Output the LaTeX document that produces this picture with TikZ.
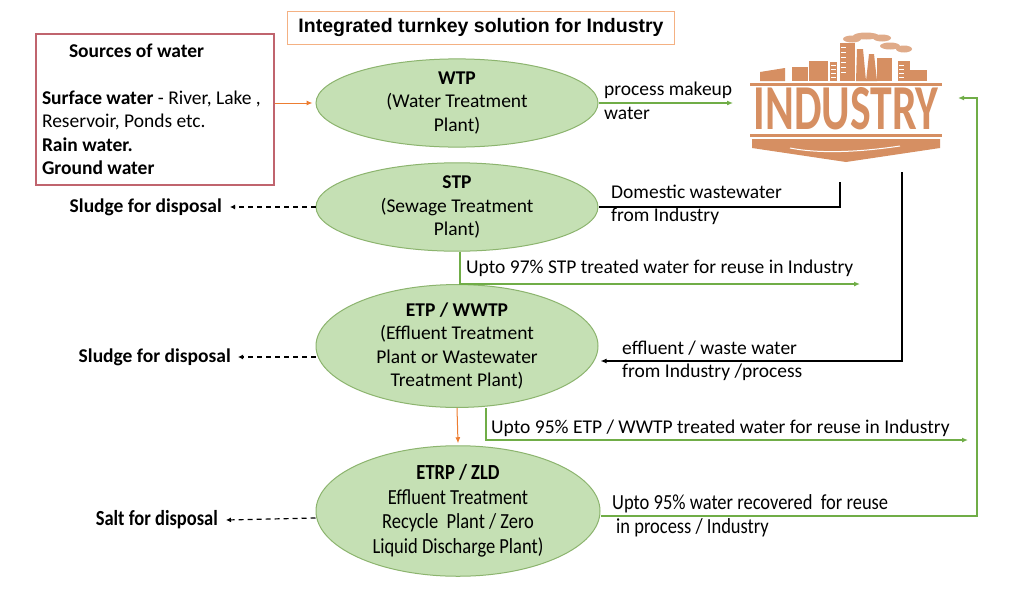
\documentclass[tikz,border=0pt]{standalone}
\usepackage{fontspec}
\usepackage{graphicx}
\setmainfont{Carlito}
\newfontfamily\titlefont{Liberation Sans}
\newfontfamily\narrowfont[FakeStretch=0.86]{Carlito}
\usetikzlibrary{shapes.geometric, arrows.meta}

\definecolor{logoc}{RGB}{214,143,98}
\definecolor{titleline}{RGB}{244,177,131}
\definecolor{srcline}{RGB}{192,100,110}
\definecolor{plantfill}{RGB}{197,224,180}
\definecolor{plantline}{RGB}{140,180,110}
\definecolor{reuse}{RGB}{112,173,71}
\definecolor{feed}{RGB}{237,125,49}

\begin{document}
\begin{tikzpicture}[x=1pt,y=-1pt,
		font=\fontsize{19.5}{23.5}\selectfont,
		plant/.style = {ellipse,draw=plantline,line width=1pt,fill=plantfill,inner sep=0pt,align=center,minimum width=282pt},
		box/.style = {draw,rectangle,line width=1.2pt,inner sep=7pt},
		note/.style = {anchor=west,align=flush left,inner sep=0pt},
		dump/.style = {font=\fontsize{19.5}{23.5}\selectfont\bfseries,inner sep=0pt},
		feedline/.style = {draw=feed,line width=1pt,-{Latex[length=6pt,width=5pt]}},
		reuseline/.style = {draw=reuse,line width=1.2pt,-{Latex[length=6pt,width=5pt]}},
		wasteline/.style = {draw=black,line width=1.3pt},
		dumpline/.style = {draw=black,line width=1.2pt,dash pattern=on 5pt off 4pt,-{Latex[length=5pt,width=5pt]}}]
		\useasboundingbox (0,0) rectangle (1024,589);
		\fill[white] (0,0) rectangle (1024,589);
		% title and sources
		\node [box, draw=titleline, minimum width=387pt, minimum height=32pt, font=\titlefont\fontsize{19.5}{22}\selectfont\bfseries] (title) at (481,28) {Integrated turnkey solution for Industry};
		\node [box, draw=srcline, minimum width=238pt, minimum height=151pt, inner xsep=6pt, inner ysep=3pt, text width=226pt, align=flush left] (src) at (155,109.5)
			{\hspace*{27pt}\textbf{Sources of water}\\[23.5pt]\mbox{\textbf{Surface water} - River, Lake ,}\\Reservoir, Ponds etc.\\\textbf{Rain water.}\\\textbf{Ground water}};
		% plants
		\node [plant, minimum height=64pt] (wtp) at (457,103) {\textbf{WTP}\\(Water Treatment\\Plant)};
		\node [plant, minimum height=66pt] (stp) at (457,207) {\textbf{STP}\\(Sewage Treatment\\Plant)};
		\node [plant, minimum height=102pt] (etp) at (457,346) {\textbf{ETP / WWTP}\\(Effluent Treatment\\Plant or Wastewater\\Treatment Plant)};
		\node [plant, minimum width=284pt, minimum height=118pt, font=\narrowfont\fontsize{21.5}{24.5}\selectfont] (etrp) at (458,511) {\textbf{ETRP / ZLD}\\Effluent Treatment\\Recycle\ \ Plant / Zero\\Liquid Discharge Plant)};
		% disposal
		\node [dump, anchor=east] (sl1) at (222,207) {Sludge for disposal};
		\node [dump, anchor=east] (sl2) at (231,357) {Sludge for disposal};
		\node [dump, anchor=east, font=\narrowfont\fontsize{21.5}{24}\selectfont\bfseries] (salt) at (218,520) {Salt for disposal};
		% industry logo
		\node [minimum width=192pt, minimum height=129pt, inner sep=0pt] (ind) at (846,97.5) {};
		\node [inner sep=0pt, text=logoc, font=\fontsize{40}{40}\selectfont\bfseries] (indtxt) at (846,109) {\resizebox{185pt}{42pt}{INDUSTRY}};
		\fill[logoc] (750,83) rectangle (942,85.5);
		\fill[logoc] (750,134) rectangle (942,136.5);
		\fill[logoc] (752,139) -- (940,139) -- (940,148) -- (846,162) -- (752,148) -- cycle;
		\draw[white, line width=1pt] (790,148) .. controls (820,154) and (860,152) .. (900,146);
		\fill[logoc] (760,81) -- (760,72) -- (785,68) -- (785,81) -- cycle;
		\fill[logoc] (792,81) rectangle (808,67);
		\fill[logoc] (809,81) rectangle (828,61);
		\fill[logoc] (830,81) rectangle (837,62);
		\fill[logoc] (840,81) rectangle (855,43);
		\fill[logoc] (856,81) -- (857,49) -- (863,49) -- (866,81) -- cycle;
		\fill[logoc] (866,81) -- (869,54) -- (874,54) -- (877,81) -- cycle;
		\fill[logoc] (877,81) rectangle (892,58);
		\fill[logoc] (898,81) rectangle (910,61);
		\fill[logoc] (910,81) rectangle (927,70);
		\foreach \y in {47,52,57,62,67,72} {
			\draw[white, line width=1pt] (841,\y) -- (846,\y);
		}
		\foreach \y in {65,69,73,77} {
			\draw[white, line width=0.8pt] (831,\y) -- (836,\y);
			\draw[white, line width=0.8pt] (899,\y) -- (904,\y);
		}
		% smoke
		\foreach \cx/\cy/\rx in {852/39/9, 866/36/13, 882/38/9, 890/46/10, 904/49/8} {
			\fill[logoc!75] (\cx,\cy) ellipse [x radius=\rx, y radius=3.5];
		}
		% connector points
		\coordinate (pin) at (733,103);
		\coordinate (dom) at (840,182);
		\coordinate (eff) at (902,172);
		\coordinate (r97) at (860,284);
		\coordinate (r95) at (968,440);
		\coordinate (loop) at (977,516);
		\coordinate (indr) at (958,98);
		% connectors
		\draw[feedline] (src.east |- wtp.west) -- ([xshift=-3pt]wtp.west);
		\draw[reuseline] (wtp.east) -- (pin);
		\draw[wasteline] (dom) |- (stp.east);
		\draw[reuseline] ([xshift=3pt]stp.south) |- (r97);
		\draw[wasteline, -{Latex[length=6pt,width=5pt]}] (eff) |- ([yshift=-15pt, xshift=2pt]etp.east);
		\draw[feedline] (etp.south) -- ([yshift=2pt]etrp.north);
		\draw[reuseline] ([xshift=29pt]etp.south) |- (r95);
		\draw[reuseline] ([yshift=-5pt]etrp.east) -- (loop) |- (indr);
		\draw[dumpline] (stp.west) -- ([xshift=8pt]sl1.east);
		\draw[dumpline] (etp.west |- sl2) -- ([xshift=7pt]sl2.east);
		\draw[dumpline] ([yshift=-7pt]etrp.west) -- ([xshift=8pt]salt.east);
		% connector labels
		\node [note] (lmake) at (604,101) {process makeup\\water};
		\node [note] (ldom) at (611,205) {Domestic wastewater\\from Industry};
		\node [note] (l97) at (466,268) {Upto 97\% STP treated water for reuse in Industry};
		\node [note] (leff) at (622,361) {effluent / waste water\\from Industry /process};
		\node [note] (l95) at (491,428) {Upto 95\% ETP / WWTP treated water for reuse in Industry};
		\node [note, font=\narrowfont\fontsize{21.5}{23.5}\selectfont] (lrec) at (612,516) {Upto 95\% water recovered\ \ for reuse\\\hspace*{4pt}in process / Industry};
	\end{tikzpicture}
\end{document}
